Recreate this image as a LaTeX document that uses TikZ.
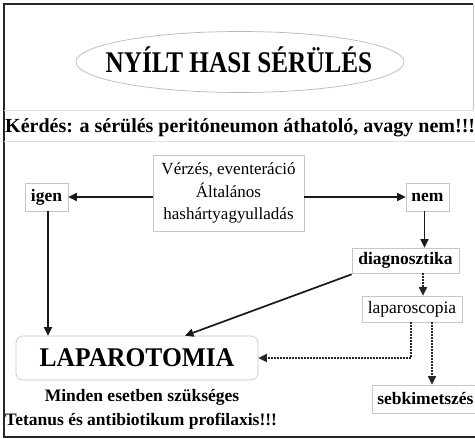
\documentclass[tikz,border=0pt]{standalone}
\usepackage{fontspec}
\setmainfont{Liberation Serif}
\usetikzlibrary{arrows.meta,shapes.geometric}
\tikzset{
  boxstyle/.style={draw=gray!45, line width=0.6pt, inner sep=0pt, fill=white},
  boldtxt/.style={font=\fontsize{17.5}{21}\selectfont\bfseries},
  regtxt/.style={font=\fontsize{17.5}{21}\selectfont},
  arr/.style={line width=1.7pt, black!90, -{Triangle[length=8.5pt,width=8pt]}},
  dotarr/.style={line width=1.5pt, black!85, dash pattern=on 1.5pt off 1.5pt, -{Triangle[length=8.5pt,width=8pt]}},
  faint/.style={draw=gray!25, line width=0.6pt}
}
\begin{document}
\begin{tikzpicture}[x=1pt,y=-1pt]
\useasboundingbox (0,0) rectangle (475,439);
\fill[white] (0,0) rectangle (475,439);
% frame
\draw[line width=2pt, black!85] (473,4) -- (3.5,4) -- (3.5,437) -- (475,437);
\draw[faint, draw=gray!45] (473,4) -- (473,110);
\draw[faint] (4,110) -- (473,110);
\draw[faint] (4,141) -- (475,141);
% title
\node[ellipse, draw=gray!55, line width=0.7pt, minimum width=328pt, minimum height=61pt] (oval) at (240,62) {};
\node[anchor=base, inner sep=0pt, font=\fontsize{30}{30}\selectfont\bfseries] (title) at (239,72.7) {\scalebox{0.84}[1]{NYÍLT HASI SÉRÜLÉS}};
% question
\node[anchor=base west, inner sep=0pt, font=\fontsize{20}{20}\selectfont\bfseries] (q) at (5,132) {Kérdés: a sérülés peritóneumon áthatoló, avagy nem!!!};
% boxes
\node[boxstyle, regtxt, font=\fontsize{17}{22.5}\selectfont, align=center, minimum width=151pt, minimum height=76pt] (ctr) at (228.5,193) {Vérzés, eventeráció\\Általános\\hashártyagyulladás};
\node[boxstyle, boldtxt, minimum width=43pt, minimum height=28pt] (igen) at (46.5,197) {igen};
\node[boxstyle, boldtxt, minimum width=43pt, minimum height=28pt] (nem) at (427.5,197) {nem};
\node[boxstyle, boldtxt, minimum width=107pt, minimum height=25pt] (diag) at (405.5,260.5) {diagnosztika};
\node[boxstyle, regtxt, minimum width=100pt, minimum height=26pt] (lapsc) at (412,309) {laparoscopia};
\node[boxstyle, boldtxt, anchor=west, inner xsep=5pt, minimum height=28pt] (sebk) at (372,399) {sebkimetszés};
\node[boxstyle, rounded corners=7pt, minimum width=242pt, minimum height=44pt, font=\fontsize{27}{27}\selectfont\bfseries] (lap) at (137,358) {\scalebox{0.945}[1]{LAPAROTOMIA}};
% bottom texts
\node[anchor=base, inner sep=0pt, boldtxt] (m1) at (142,401) {Minden esetben szükséges};
\node[anchor=base west, inner sep=0pt, boldtxt] (m2) at (5,425) {Tetanus és antibiotikum profilaxis!!!};
% connectors
\draw[arr] (ctr.west |- igen) -- (igen.east);
\draw[arr] (ctr.east |- nem) -- (nem.west);
\draw[arr] ([xshift=1.5pt]igen.south) -- ([xshift=1.5pt]igen.south |- lap.north);
\draw[arr] ([xshift=-3pt]nem.south) -- ([xshift=-3pt]nem.south |- diag.north);
\draw[arr] ([yshift=-1pt]diag.south west) -- ([xshift=48pt]lap.north);
\draw[dotarr] ([xshift=17.5pt]diag.south) -- ([xshift=17.5pt]diag.south |- lapsc.north);
\draw[dotarr] ([xshift=-1pt]lapsc.south) |- (lap.east);
\draw[dotarr] ([xshift=20pt]lapsc.south) -- ([xshift=20pt]lapsc.south |- sebk.north);
\end{tikzpicture}
\end{document}
